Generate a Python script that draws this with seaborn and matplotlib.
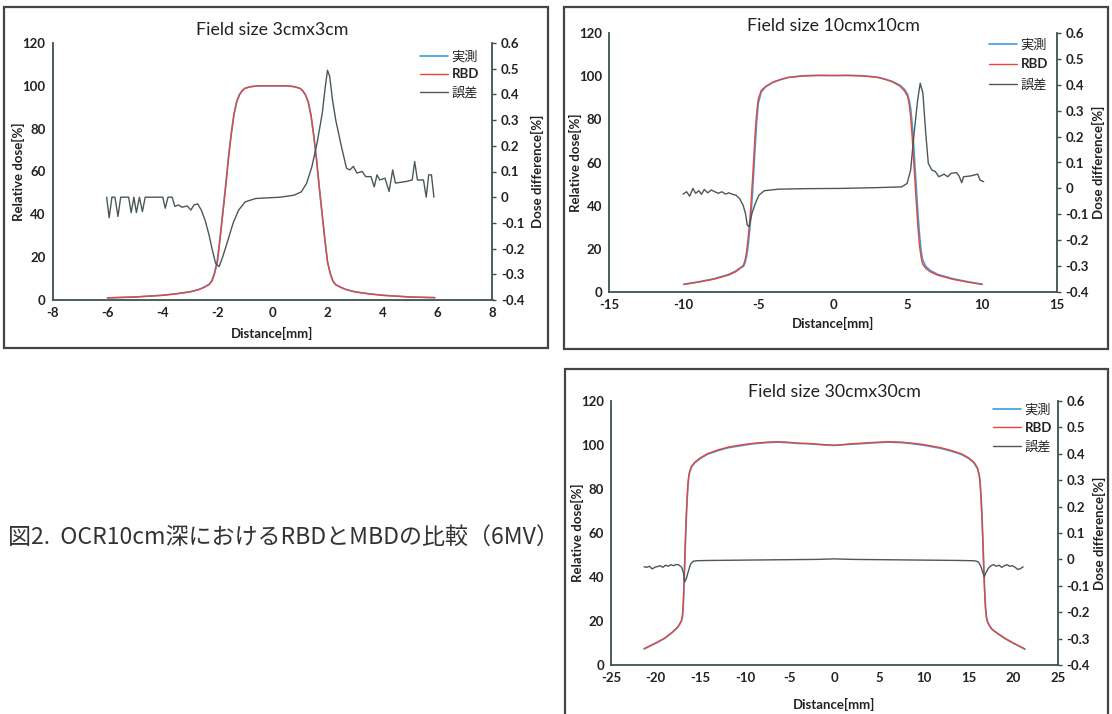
import matplotlib
matplotlib.use('Agg')
import matplotlib.pyplot as plt
import seaborn as sns
from matplotlib.patches import Rectangle
from matplotlib.ticker import FuncFormatter, MultipleLocator

# ---- Field size 3cm x 3cm ----
p1_x = [-6.0, -5.0, -4.0, -3.5, -3.0, -2.7, -2.5, -2.3, -2.2, -2.1,
        -2.0, -1.9, -1.8, -1.7, -1.6, -1.5, -1.4, -1.3, -1.2, -1.1,
        -1.0, -0.8, -0.5, 0.0, 0.5, 0.8, 1.0, 1.1, 1.2, 1.3,
        1.4, 1.5, 1.6, 1.7, 1.8, 1.9, 2.0, 2.1, 2.2, 2.3,
        2.5, 2.7, 3.0, 3.5, 4.0, 5.0, 5.9]
p1_meas = [1.0, 1.4, 2.2, 2.9, 3.8, 4.8, 5.9, 7.4, 9.2, 13.2,
           19.0, 30.0, 42.0, 54.0, 67.0, 78.0, 87.0, 92.8, 96.0, 97.8,
           98.9, 99.6, 100.0, 100.0, 100.0, 99.6, 98.8, 97.7, 95.7, 92.3,
           86.0, 76.5, 65.5, 52.5, 40.5, 28.5, 17.7, 12.3, 8.7, 7.1,
           5.8, 4.8, 3.8, 2.9, 2.2, 1.4, 1.1]
p1_rbd = [1.0, 1.4, 2.2, 2.9, 3.8, 4.8, 5.8, 7.2, 8.8, 12.5,
          18.0, 29.0, 41.0, 53.0, 66.0, 77.0, 86.5, 92.5, 95.8, 97.7,
          98.8, 99.6, 100.0, 100.0, 100.0, 99.6, 98.8, 97.7, 95.8, 92.5,
          86.5, 77.0, 66.0, 53.0, 41.0, 29.0, 18.0, 12.5, 8.8, 7.2,
          5.8, 4.8, 3.8, 2.9, 2.2, 1.4, 1.1]
p1_dx = [-6.03, -5.94, -5.84, -5.73, -5.62, -5.52, -5.35, -5.23, -5.14, -5.04,
         -4.95, -4.84, -4.73, -4.63, -4.3, -3.99, -3.9, -3.8, -3.65, -3.55,
         -3.42, -3.29, -3.1, -2.97, -2.85, -2.72, -2.59, -2.45, -2.3, -2.2,
         -2.07, -1.94, -1.81, -1.62, -1.43, -1.23, -0.99, -0.61, 0.28, 0.79,
         1.05, 1.24, 1.43, 1.62, 1.81, 1.92, 2.0, 2.08, 2.18, 2.3,
         2.5, 2.69, 2.81, 2.94, 3.07, 3.26, 3.39, 3.58, 3.7, 3.8,
         3.9, 4.09, 4.24, 4.37, 4.47, 4.85, 5.08, 5.17, 5.27, 5.49,
         5.59, 5.68, 5.78, 5.87]
p1_diff = [0.0, -0.08, 0.0, 0.0, -0.075, 0.0, 0.0, 0.0, -0.06, 0.0,
           -0.06, 0.0, -0.056, 0.0, 0.0, 0.0, -0.043, 0.0, 0.0, -0.036,
           -0.03, -0.039, -0.034, -0.05, -0.03, -0.026, -0.05, -0.09, -0.15, -0.2,
           -0.257, -0.27, -0.232, -0.167, -0.1, -0.05, -0.018, -0.005, 0.0, 0.008,
           0.021, 0.054, 0.118, 0.21, 0.327, 0.43, 0.494, 0.47, 0.38, 0.3,
           0.2, 0.113, 0.106, 0.12, 0.094, 0.1, 0.08, 0.08, 0.04, 0.087,
           0.067, 0.074, 0.022, 0.106, 0.055, 0.061, 0.067, 0.139, 0.067, 0.067,
           0.0, 0.087, 0.087, 0.0]

# ---- Field size 10cm x 10cm ----
p2_x = [-10.0, -9.0, -8.0, -7.0, -6.5, -6.2, -6.0, -5.9, -5.8, -5.7,
        -5.6, -5.5, -5.4, -5.3, -5.2, -5.1, -5.0, -4.8, -4.5, -4.0,
        -3.5, -3.0, -2.0, -1.0, 0.0, 1.0, 2.0, 3.0, 3.5, 4.0,
        4.5, 4.8, 5.0, 5.1, 5.2, 5.3, 5.4, 5.5, 5.6, 5.7,
        5.8, 5.9, 6.0, 6.2, 6.5, 7.0, 8.0, 9.0, 10.0]
p2_meas = [3.6, 4.7, 6.1, 8.1, 9.8, 11.3, 11.8, 13.3, 16.0, 20.5,
           27.0, 35.0, 45.0, 57.0, 69.0, 80.0, 87.5, 92.8, 95.1, 97.2,
           98.4, 99.4, 100.2, 100.4, 100.3, 100.4, 100.2, 99.5, 98.6, 97.5,
           95.7, 93.8, 91.5, 89.0, 85.0, 78.0, 68.0, 57.0, 46.0, 35.0,
           26.0, 19.0, 15.0, 12.0, 10.0, 8.2, 6.2, 4.8, 3.6]
p2_rbd = [3.5, 4.6, 5.9, 7.8, 9.4, 11.0, 12.5, 14.5, 18.0, 24.0,
          31.0, 40.0, 51.0, 63.0, 75.0, 84.0, 89.5, 93.5, 95.3, 97.3,
          98.5, 99.4, 100.1, 100.3, 100.3, 100.3, 100.1, 99.4, 98.5, 97.3,
          95.3, 93.0, 90.5, 87.0, 81.0, 72.0, 61.0, 50.0, 39.0, 29.0,
          21.0, 16.0, 13.0, 11.0, 9.4, 7.8, 5.9, 4.6, 3.5]
p2_dx = [-10.04, -9.8, -9.6, -9.38, -9.2, -8.98, -8.81, -8.62, -8.39, -8.15,
         -7.91, -7.68, -7.44, -7.2, -6.97, -6.73, -6.5, -6.26, -6.02, -5.86,
         -5.74, -5.62, -5.43, -5.2, -4.96, -4.6, -3.66, -1.77, 0.59, 2.95,
         4.6, 4.96, 5.2, 5.43, 5.67, 5.84, 6.02, 6.21, 6.38, 6.62,
         6.85, 7.09, 7.44, 7.68, 7.91, 8.27, 8.44, 8.62, 8.74, 9.2,
         9.69, 9.85, 10.09]
p2_diff = [-0.022, -0.013, -0.03, 0.0, -0.019, -0.009, -0.023, -0.004, -0.017, -0.006,
           -0.013, -0.019, -0.013, -0.022, -0.017, -0.023, -0.026, -0.039, -0.065, -0.097,
           -0.142, -0.148, -0.097, -0.058, -0.026, -0.009, -0.003, -0.001, 0.0, 0.003,
           0.006, 0.019, 0.071, 0.213, 0.342, 0.406, 0.368, 0.213, 0.097, 0.071,
           0.065, 0.045, 0.055, 0.045, 0.058, 0.061, 0.048, 0.022, 0.045, 0.048,
           0.055, 0.032, 0.026]

# ---- Field size 30cm x 30cm ----
p3_x = [-21.3, -20.0, -19.0, -18.2, -17.6, -17.3, -17.1, -17.0, -16.9, -16.8,
        -16.7, -16.6, -16.5, -16.4, -16.3, -16.2, -16.0, -15.6, -15.0, -14.2,
        -13.0, -11.85, -10.0, -9.0, -7.5, -6.3, -5.0, -4.0, -3.0, -2.0,
        -1.0, 0.0, 1.0, 2.0, 3.0, 4.0, 5.0, 6.0, 7.5, 8.7,
        10.0, 11.85, 13.0, 14.2, 15.0, 15.6, 16.0, 16.2, 16.3, 16.4,
        16.5, 16.6, 16.7, 16.8, 16.9, 17.0, 17.1, 17.3, 17.6, 18.2,
        19.0, 20.0, 21.3]
p3_meas = [7.3, 9.9, 12.1, 14.6, 16.9, 18.6, 20.2, 22.0, 28.0, 39.0,
           52.0, 64.0, 74.0, 81.0, 85.5, 87.6, 90.0, 92.0, 93.9, 95.8,
           97.5, 98.8, 100.0, 100.6, 101.1, 101.3, 101.0, 100.7, 100.6, 100.3,
           100.0, 99.8, 100.1, 100.4, 100.6, 100.9, 101.1, 101.3, 101.1, 100.6,
           99.9, 98.5, 97.3, 95.7, 93.9, 91.9, 89.2, 86.0, 82.5, 76.0,
           68.0, 57.0, 45.0, 34.0, 26.0, 22.0, 20.0, 18.1, 16.3, 14.4,
           12.2, 9.9, 7.2]
p3_rbd = [7.4, 10.0, 12.2, 14.7, 17.0, 18.8, 20.5, 23.0, 30.0, 42.0,
          55.0, 66.0, 75.0, 82.0, 86.0, 88.0, 90.3, 92.3, 94.2, 96.1,
          97.8, 99.1, 100.3, 100.8, 101.3, 101.5, 101.2, 100.8, 100.7, 100.4,
          100.1, 99.9, 100.2, 100.6, 100.8, 101.1, 101.3, 101.5, 101.3, 100.8,
          100.2, 98.8, 97.6, 96.0, 94.2, 92.2, 89.5, 86.0, 82.0, 75.0,
          66.0, 55.0, 43.0, 32.0, 25.0, 21.5, 19.8, 18.0, 16.3, 14.5,
          12.3, 10.0, 7.3]
p3_dx = [-21.3, -21.0, -20.7, -20.4, -20.1, -19.8, -19.5, -19.2, -18.9, -18.6,
         -18.3, -18.0, -17.7, -17.4, -17.1, -16.9, -16.75, -16.55, -16.35, -16.1,
         -15.8, -15.4, -14.0, -11.0, -8.0, -5.0, -2.0, 0.0, 2.0, 5.0,
         8.0, 11.0, 14.0, 15.4, 15.8, 16.1, 16.35, 16.55, 16.75, 16.95,
         17.2, 17.5, 17.8, 18.1, 18.4, 18.7, 19.0, 19.3, 19.6, 19.9,
         20.2, 20.5, 20.8, 21.1]
p3_diff = [-0.028, -0.03, -0.026, -0.036, -0.03, -0.027, -0.024, -0.03, -0.022, -0.026,
           -0.02, -0.024, -0.019, -0.021, -0.03, -0.05, -0.085, -0.07, -0.045, -0.018,
           -0.007, -0.005, -0.004, -0.003, -0.002, -0.001, 0.0, 0.002, 0.0, -0.001,
           -0.002, -0.003, -0.004, -0.005, -0.006, -0.01, -0.025, -0.045, -0.066, -0.05,
           -0.034, -0.024, -0.02, -0.026, -0.022, -0.03, -0.024, -0.02, -0.026, -0.024,
           -0.03, -0.038, -0.035, -0.028]

legend_labels = ['実測', 'RBD', '誤差']
caption = '図2.  OCR10cm深におけるRBDとMBDの比較（6MV）'

BLUE = '#3b9ddc'
RED = '#e8463c'
GRAY = '#4a5858'
SPINE = '#3e5050'
TXT = '#222222'

sns.set_theme(style='white')
plt.rcParams['font.family'] = ['Lato', 'Noto Sans CJK JP', 'DejaVu Sans']
plt.rcParams['axes.unicode_minus'] = False

W, H = 1112, 714
fig = plt.figure(figsize=(W / 100, H / 100), dpi=100)


def px_rect(l, t, r, b):
    return [l / W, 1 - b / H, (r - l) / W, (b - t) / H]


def fmt(v, pos):
    return f'{round(v, 2):g}'


def panel(box, frame, x, meas, rbd, dx, diff, xlim, xstep, title, title_y,
          leg_xy, leg_sp, xlab_pad, rlab_pad):
    fig.add_artist(Rectangle((frame[0] / W, 1 - frame[3] / H),
                             (frame[2] - frame[0]) / W, (frame[3] - frame[1]) / H,
                             transform=fig.transFigure, fill=False,
                             edgecolor='#444444', lw=1.6))
    ax = fig.add_axes(px_rect(*box))
    sns.lineplot(x=x, y=meas, ax=ax, color=BLUE, lw=1.2, sort=False)
    sns.lineplot(x=x, y=rbd, ax=ax, color=RED, lw=1.0, sort=False)
    ax.set_xlim(*xlim)
    ax.set_ylim(0, 120)
    ax.xaxis.set_major_locator(MultipleLocator(xstep))
    ax.yaxis.set_major_locator(MultipleLocator(20))
    ax2 = ax.twinx()
    sns.lineplot(x=dx, y=diff, ax=ax2, color=GRAY, lw=1.0, sort=False)
    ax2.set_ylim(-0.4, 0.6)
    ax2.yaxis.set_major_locator(MultipleLocator(0.1))
    ax2.yaxis.set_major_formatter(FuncFormatter(fmt))

    for a in (ax, ax2):
        for s in a.spines.values():
            s.set_visible(False)
    for side in ('left', 'bottom'):
        ax.spines[side].set_visible(True)
        ax.spines[side].set_color(SPINE)
        ax.spines[side].set_linewidth(1.3)
    ax2.spines['right'].set_visible(True)
    ax2.spines['right'].set_color(SPINE)
    ax2.spines['right'].set_linewidth(1.3)

    ax.tick_params(axis='both', length=0, pad=5, labelsize=9.5, labelcolor=TXT)
    ax2.tick_params(axis='y', length=3, width=1, color=SPINE, pad=3,
                    labelsize=9.5, labelcolor=TXT)
    for lab in ax.get_xticklabels() + ax.get_yticklabels() + ax2.get_yticklabels():
        lab.set_fontweight('bold')

    ax.set_xlabel('Distance[mm]', fontsize=9.5, fontweight='bold', color=TXT,
                  labelpad=xlab_pad)
    ax.set_ylabel('Relative dose[%]', fontsize=9.5, fontweight='bold', color=TXT,
                  labelpad=-2)
    ax2.set_ylabel('Dose difference[%]', fontsize=9.5, fontweight='bold', color=TXT,
                   labelpad=rlab_pad)

    cx = (box[0] + box[2]) / 2
    fig.text(cx / W, 1 - title_y / H, title, ha='center', va='center',
             fontsize=12.8, color=TXT)

    handles = [ax.lines[0], ax.lines[1], ax2.lines[0]]
    ax2.legend(handles, legend_labels, loc='upper left',
               bbox_to_anchor=(leg_xy[0] / W, 1 - leg_xy[1] / H),
               bbox_transform=fig.transFigure, frameon=False, borderpad=0,
               borderaxespad=0, handlelength=2.1, handletextpad=0.3,
               labelspacing=leg_sp, fontsize=9.5)
    for t in ax2.get_legend().get_texts():
        t.set_color(TXT)
        if t.get_text() == 'RBD':
            t.set_fontweight('bold')


panel((52.5, 43, 492.5, 300), (4, 7, 548, 348), p1_x, p1_meas, p1_rbd,
      p1_dx, p1_diff, (-8, 8), 2, 'Field size 3cmx3cm', 30, (420, 50), 0.45, 6, 5)
panel((609, 33, 1057, 292), (564, 7, 1108, 349), p2_x, p2_meas, p2_rbd,
      p2_dx, p2_diff, (-15, 15), 5, 'Field size 10cmx10cm', 26, (989, 38), 0.6, 4, 2)
panel((611, 401, 1058, 665), (565, 369, 1108, 730), p3_x, p3_meas, p3_rbd,
      p3_dx, p3_diff, (-25, 25), 5, 'Field size 30cmx30cm', 392, (993, 403), 0.5, 10, 2)

fig.text(8 / W, 1 - 537 / H, caption, ha='left', va='center', fontsize=16.6,
         color='#333333', family=['Noto Sans CJK JP', 'DejaVu Sans'])

fig.savefig('out.png', dpi=100)
